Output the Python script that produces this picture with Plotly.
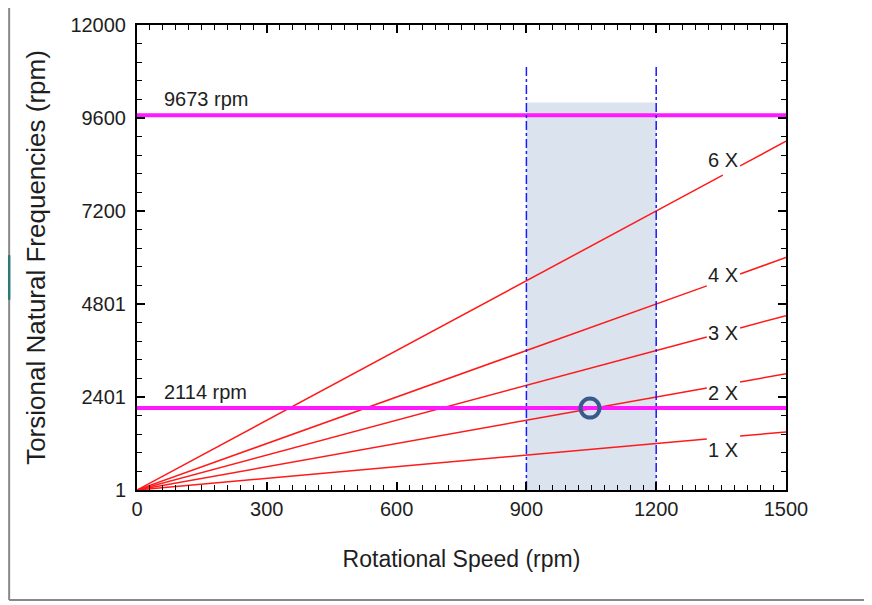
import plotly.graph_objects as go

# ---- data ----
speed_range = [0, 1500]                 # rotational speed (rpm)
orders = [1, 2, 3, 4, 6]                # excitation orders
order_labels = ["1 X", "2 X", "3 X", "4 X", "6 X"]
label_speed = 1354                      # speed where order labels sit
label_freq = [1032, 2503, 4052, 5548, 8516]   # label vertical positions (rpm)
gap_start = [1317, 1317, 1317, 1317, 1354]    # line break behind labels
gap_end = [1394, 1394, 1394, 1394, 1394]
natural_freqs = [9673, 2114]            # torsional natural frequencies (rpm)
natural_labels = ["9673 rpm", "2114 rpm"]
op_range = [900, 1200]                  # operating speed range
op_band_top = 10000
op_line_top = 10970
interference_speed = 1047
interference_freq = 2114
y_tickvals = [1, 2401, 4801, 7200, 9600, 12000]
y_ticktext = ["1", "2401", "4801", "7200", "9600", "12000"]
x_tickvals = [0, 300, 600, 900, 1200, 1500]

FONT = "Liberation Sans, Arial, sans-serif"
TXT = "#1e1e1e"

fig = go.Figure()

# operating band shading
fig.add_trace(go.Scatter(
    x=[op_range[0], op_range[1], op_range[1], op_range[0], op_range[0]],
    y=[1, 1, op_band_top, op_band_top, 1],
    fill="toself", fillcolor="#dbe3ef", line=dict(width=0),
    mode="lines", hoverinfo="skip", showlegend=False))

# order lines (broken behind their labels)
for n, g0, g1 in zip(orders, gap_start, gap_end):
    xs = [speed_range[0], g0, None, g1, speed_range[1]]
    ys = [max(1, n * speed_range[0]), n * g0, None, n * g1, n * speed_range[1]]
    fig.add_trace(go.Scatter(
        x=xs, y=ys, mode="lines", connectgaps=False,
        line=dict(color="#ff1a1a", width=1.5), showlegend=False))

# natural frequency lines
for f in natural_freqs:
    fig.add_trace(go.Scatter(
        x=speed_range, y=[f, f], mode="lines",
        line=dict(color="#ff19ff", width=4), showlegend=False))

# operating range boundaries
for xv in op_range:
    fig.add_trace(go.Scatter(
        x=[xv, xv], y=[1, op_line_top], mode="lines",
        line=dict(color="#1a1aff", width=1.5, dash="dashdot"),
        showlegend=False))

# interference point
fig.add_trace(go.Scatter(
    x=[interference_speed], y=[interference_freq], mode="markers",
    marker=dict(symbol="circle-open", size=19, color="#3a5a8c",
                line=dict(width=4, color="#3a5a8c")),
    showlegend=False))

# order labels
for lab, fy in zip(order_labels, label_freq):
    fig.add_annotation(
        x=label_speed, y=fy, text=lab, showarrow=False,
        xanchor="center", yanchor="middle",
        font=dict(family=FONT, size=20, color=TXT))

# natural frequency labels
for f, lab in zip(natural_freqs, natural_labels):
    fig.add_annotation(
        x=58, y=f, text=lab, showarrow=False, xanchor="left",
        yanchor="bottom", yshift=3,
        font=dict(family=FONT, size=20, color=TXT))

# outer window frame
fig.add_shape(type="line", xref="paper", yref="paper",
              x0=-0.197, x1=-0.197, y0=1.1, y1=-0.2366,
              line=dict(color="#888888", width=2))
fig.add_shape(type="line", xref="paper", yref="paper",
              x0=-0.197, x1=1.2, y0=-0.2366, y1=-0.2366,
              line=dict(color="#888888", width=2))
fig.add_shape(type="line", xref="paper", yref="paper",
              x0=-0.197, x1=-0.197, y0=0.409, y1=0.505,
              line=dict(color="#2b7a78", width=2.5))

axis_common = dict(
    showline=True, linecolor="black", linewidth=2, mirror="allticks",
    ticks="inside", tickcolor="black", tickwidth=1.5, ticklen=8,
    showgrid=False, zeroline=False, automargin=False,
    tickfont=dict(family=FONT, size=20, color=TXT),
)

fig.update_xaxes(
    range=speed_range, tickvals=x_tickvals,
    minor=dict(dtick=30, tick0=0, ticks="inside", ticklen=5, tickcolor="black", tickwidth=1.2),
    title=dict(text="Rotational Speed (rpm)", standoff=32,
               font=dict(family=FONT, size=23, color=TXT)),
    **axis_common)
fig.update_yaxes(
    range=[1, 12000], tickvals=y_tickvals, ticktext=y_ticktext,
    ticklabelstandoff=5,
    minor=dict(dtick=480, tick0=0.6, ticks="inside", ticklen=5, tickcolor="black", tickwidth=1.2),
    title=dict(text="Torsional Natural Frequencies (rpm)", standoff=17,
               font=dict(family=FONT, size=26, color=TXT)),
    **axis_common)

# page body has an 8px default margin, so margins compensate for it
fig.update_layout(
    width=872, height=605,
    margin=dict(l=129, r=94, t=17, b=123),
    plot_bgcolor="white", paper_bgcolor="white",
    showlegend=False,
)

fig.write_html("out.html")
